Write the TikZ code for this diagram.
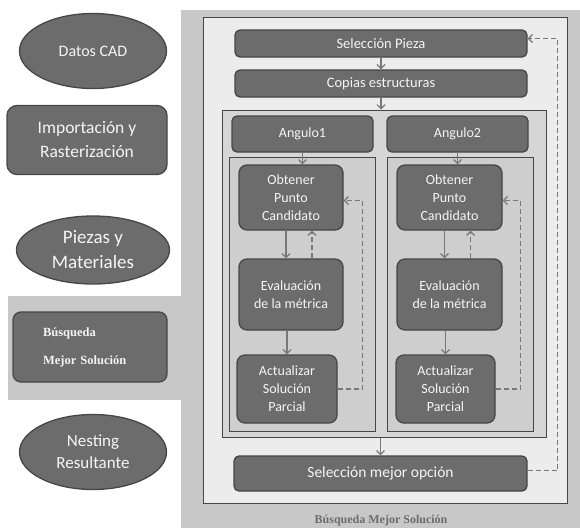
\documentclass[tikz,border=0pt]{standalone}
\usepackage{fontspec}
\setmainfont{Carlito}
\newfontfamily\serifbf{Liberation Serif}
\usetikzlibrary{shapes.geometric,arrows.meta}
\definecolor{bgray}{RGB}{200,200,200}
\definecolor{boxgray}{RGB}{108,108,108}
\definecolor{boxedge}{RGB}{70,70,70}
\definecolor{framegray}{RGB}{236,236,236}
\definecolor{innergray}{RGB}{214,214,214}
\definecolor{subgray}{RGB}{206,206,206}
\definecolor{arrowgray}{RGB}{120,120,120}
\definecolor{textgray}{RGB}{245,245,245}
\begin{document}
\begin{tikzpicture}[x=1pt,y=-1pt,
    proc/.style={draw=boxedge,fill=boxgray,line width=1.3pt,rounded corners=5pt,
      text=textgray,font=\fontsize{14.5}{16}\selectfont,align=center,inner sep=0pt},
    step box/.style={proc,rounded corners=8pt,font=\fontsize{14}{18}\selectfont},
    oval/.style={ellipse,draw=boxedge,fill=boxgray,line width=1.3pt,text=textgray,
      font=\fontsize{16}{19}\selectfont,align=center,inner sep=0pt},
    frame/.style={draw=boxedge,line width=1pt,inner sep=0pt},
    link/.style={draw=arrowgray,line width=1.2pt,-{Straight Barb[length=4pt,width=8pt]}},
    back/.style={link,dash pattern=on 5pt off 3pt}]
  \useasboundingbox (0,0) rectangle (580,528);
  \fill[bgray] (181,10) rectangle (580,528);
  \fill[bgray] (8,296) rectangle (181,400);
  \node[oval,minimum width=147,minimum height=75] (datos) at (93,51) {Datos CAD};
  \node[step box,minimum width=160,minimum height=69,rounded corners=10pt,
    font=\fontsize{17.5}{24}\selectfont] (import) at (87,140) {Importación y\\Rasterización};
  \node[oval,minimum width=153,minimum height=68,font=\fontsize{19}{25}\selectfont] (piezas) at (93,250) {Piezas y\\Materiales};
  \node[step box,minimum width=154,minimum height=70,align=left,text width=94,
    font=\serifbf\bfseries\fontsize{12.5}{28}\selectfont] (busq) at (90,347) {Búsqueda\\Mejor Solución};
  \node[oval,minimum width=147,minimum height=75,font=\fontsize{17}{22}\selectfont] (nesting) at (93,452) {Nesting\\Resultante};
  \node[frame,fill=framegray,minimum width=364,minimum height=486] (outer) at (385,260) {};
  \node[proc,minimum width=292,minimum height=27] (selpieza) at (381,43.5) {Selección Pieza};
  \node[proc,minimum width=292,minimum height=27] (copias) at (381,83.5) {Copias estructuras};
  \node[frame,fill=innergray,minimum width=324,minimum height=327] (angbox) at (384,273.5) {};
  \node[proc,minimum width=141,minimum height=36,font=\fontsize{14}{16}\selectfont] (ang1) at (302.5,134) {Angulo1};
  \node[proc,minimum width=141,minimum height=36,font=\fontsize{14}{16}\selectfont] (ang2) at (457.5,134) {Angulo2};
  \node[frame,fill=subgray,minimum width=146,minimum height=274] (sub1) at (302,294) {};
  \node[frame,fill=subgray,minimum width=146,minimum height=274] (sub2) at (460,294) {};
  \node[step box,minimum width=104,minimum height=65] (obt1) at (291,197.5) {Obtener\\Punto\\Candidato};
  \node[step box,minimum width=105,minimum height=65] (obt2) at (449.5,197.5) {Obtener\\Punto\\Candidato};
  \node[step box,minimum width=104,minimum height=71] (eval1) at (291,294.5) {Evaluación\\de la métrica};
  \node[step box,minimum width=105,minimum height=71] (eval2) at (449.5,294.5) {Evaluación\\de la métrica};
  \node[step box,minimum width=100,minimum height=68] (act1) at (287,389) {Actualizar\\Solución\\Parcial};
  \node[step box,minimum width=99,minimum height=68] (act2) at (445.5,389) {Actualizar\\Solución\\Parcial};
  \node[proc,minimum width=293,minimum height=35,font=\fontsize{15.5}{18}\selectfont] (selmejor) at (380.5,473.5) {Selección mejor opción};
  \node[font=\serifbf\bfseries\fontsize{12}{14}\selectfont,text=boxgray,anchor=base] (caption) at (381,523) {Búsqueda Mejor Solución};
  \begin{scope}[link]
    \draw (selpieza) -- (copias);
    \draw (copias.south) -- (copias.south |- angbox.north);
    \draw (ang1.south) -- (ang1.south |- obt1.north);
    \draw (ang2.south) -- (ang2.south |- obt2.north);
    \draw ([xshift=-5pt]obt1.south) -- ([xshift=-5pt]obt1.south |- eval1.north);
    \draw ([xshift=-5pt]obt2.south) -- ([xshift=-5pt]obt2.south |- eval2.north);
    \draw (act1.north |- eval1.south) -- (act1.north);
    \draw (act2.north |- eval2.south) -- (act2.north);
    \draw (angbox.south -| selmejor.north) -- (selmejor.north);
  \end{scope}
  \begin{scope}[back]
    \draw ([xshift=21pt]eval1.north) -- ([xshift=21pt]eval1.north |- obt1.south);
    \draw ([xshift=21pt]eval2.north) -- ([xshift=21pt]eval2.north |- obt2.south);
    \draw (act1.east) -- ++(25,0) |- ([yshift=-3pt]obt1.east);
    \draw (act2.east) -- ++(25,0) |- ([yshift=-3pt]obt2.east);
    \draw ([yshift=3pt]selmejor.east) -- ++(30,0) |- ([yshift=5pt]selpieza.east);
  \end{scope}
\end{tikzpicture}
\end{document}
